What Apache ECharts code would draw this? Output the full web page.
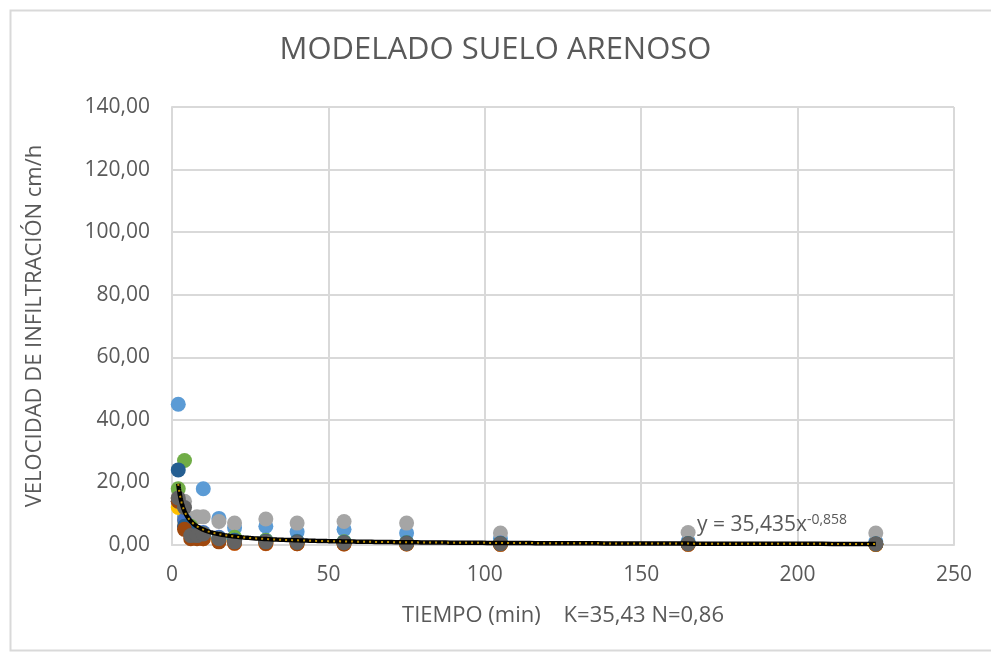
<!DOCTYPE html>
<html><head><meta charset="utf-8">
<script src="https://cdn.jsdelivr.net/npm/echarts@6/dist/echarts.min.js"></script>
<style>html,body{margin:0;padding:0;background:#fff}#c{width:991px;height:657px}</style>
</head><body><div id="c"></div>
<script>
// Data (time in minutes, infiltration rate cm/h)
const times = [2, 4, 6, 8, 10, 15, 20, 30, 40, 55, 75, 105, 165, 225];
const serieA = [45, 9, 5, 4, 18, 8.5, 5.5, 6, 4.2, 5, 3.8, 2, 1.2, 1];      // blue
const serieB = [15, 6, 3, 2.5, 2, 1.2, 0.5, 0.4, 0.4, 0.3, 0.3, 0.2, 0.2, 0.2]; // orange
const serieC = [15, 14, 8.5, 9, 9, 7.5, 7, 8.3, 7, 7.5, 7, 3.8, 4, 3.8];   // gray
const serieD = [12, 8, 4, 3, 3, 1.5, 1, 0.8, 0.6, 0.5, 0.4, 0.3, 0.3, 0.2]; // yellow
const serieE = [14, 8, 5, 4, 4, 2.5, 2, 1.5, 1.2, 1, 0.8, 0.6, 0.5, 0.4];   // mid blue
const serieF = [18, 27, 6, 4, 3.5, 2, 2.5, 1.5, 1, 1, 0.7, 0.5, 0.4, 0.3];  // green
const serieG = [24, 6, 5, 4, 3, 2, 1.5, 1.2, 1, 0.8, 0.6, 0.5, 0.4, 0.3];   // dark blue
const serieH = [14, 5, 2, 2, 2, 1, 0.6, 0.5, 0.4, 0.3, 0.3, 0.2, 0.2, 0.2]; // dark orange
const serieI = [15, 12, 3, 3, 3.5, 2, 1, 1, 0.8, 0.7, 0.5, 0.4, 0.4, 0.3]; // dark gray
const seriesNames = ['S1','S2','S3','S4','S5','S6','S7','S8','S9'];
const seriesColors = ['#5B9BD5','#ED7D31','#A5A5A5','#FFC000','#4472C4','#70AD47','#255E91','#9E480E','#636363'];
const seriesValues = [serieA, serieB, serieC, serieD, serieE, serieF, serieG, serieH, serieI];
// Trendline equation shown on the chart: y = 35,435 x^-0,858
const trendK = 35.435;
const trendN = -0.858;
const trendXmin = 2, trendXmax = 225;

const trendData = [];
for (let i = 0; i <= 300; i++) {
  const x = trendXmin * Math.pow(trendXmax / trendXmin, i / 300);
  trendData.push([x, trendK * Math.pow(x, trendN)]);
}

const font = 'Open Sans';
const chart = echarts.init(document.getElementById('c'));
const series = seriesValues.map((vals, i) => ({
  name: seriesNames[i],
  type: 'scatter',
  symbolSize: 15,
  z: 3,
  itemStyle: { color: seriesColors[i], opacity: 1 },
  data: times.map((t, j) => [t, vals[j]])
}));
series.push({
  type: 'line', data: trendData, showSymbol: false, silent: true, z: 4,
  lineStyle: { color: '#000', width: 4.5 }
});
series.push({
  type: 'line', data: trendData, showSymbol: false, silent: true, z: 5,
  lineStyle: { color: '#C09000', width: 2, type: [2, 4] }
});

chart.setOption({
  animation: false,
  backgroundColor: '#fff',
  title: {
    text: 'MODELADO SUELO ARENOSO', left: 'center', top: 30,
    textStyle: { fontFamily: font, fontWeight: 'normal', fontSize: 31, color: '#595959' }
  },
  grid: { left: 172, right: 37, top: 107, bottom: 112 },
  xAxis: {
    type: 'value', min: 0, max: 250, interval: 50,
    name: 'TIEMPO (min)    K=35,43 N=0,86', nameLocation: 'middle', nameGap: 60,
    nameTextStyle: { fontFamily: font, fontSize: 22, color: '#595959' },
    axisLine: { show: true, lineStyle: { color: '#d9d9d9', width: 2 } },
    axisTick: { show: false },
    axisLabel: { fontFamily: font, fontSize: 21, color: '#595959', margin: 20 },
    splitLine: { show: true, lineStyle: { color: '#d9d9d9', width: 2 } }
  },
  yAxis: {
    type: 'value', min: 0, max: 140, interval: 20,
    name: 'VELOCIDAD DE INFILTRACIÓN cm/h', nameLocation: 'middle', nameGap: 126,
    nameTextStyle: { fontFamily: font, fontSize: 22, color: '#595959' },
    axisLine: { show: true, lineStyle: { color: '#d9d9d9', width: 2 } },
    axisTick: { show: false },
    axisLabel: { fontFamily: font, fontSize: 21, color: '#595959', margin: 22,
      formatter: v => v.toFixed(2).replace('.', ',') },
    splitLine: { show: true, lineStyle: { color: '#d9d9d9', width: 2 } }
  },
  graphic: [
    { type: 'rect', left: 8, top: 8, shape: { width: 990, height: 640 },
      style: { fill: 'none', stroke: '#d9d9d9', lineWidth: 2 }, z: 0 },
    { type: 'text', left: 697, top: 513, z: 10,
      style: { rich: {
        a: { fontFamily: font, fontSize: 21, fill: '#595959' },
        s: { fontFamily: font, fontSize: 14, fill: '#595959', verticalAlign: 'top', padding: [0,0,10,0] }
      }, text: '{a|y = 35,435x}{s|-0,858}' } }
  ],
  series: series
});
</script></body></html>
